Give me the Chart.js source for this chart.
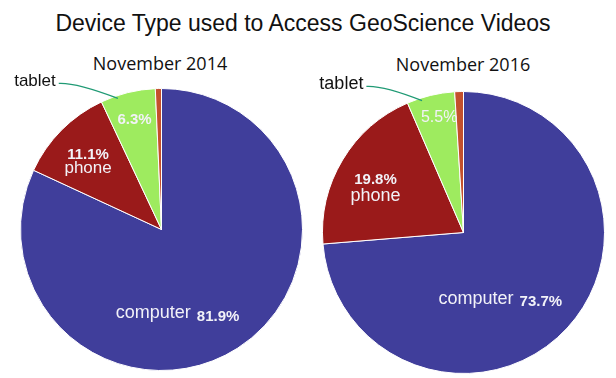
<!DOCTYPE html>
<html>
<head>
<meta charset="utf-8">
<script src="https://cdn.jsdelivr.net/npm/chart.js@4/dist/chart.umd.min.js"></script>
<style>
  body { margin: 0; background: #fff; width: 616px; height: 378px; overflow: hidden; position: relative; }
  #title { position: absolute; left: -5px; top: 12px; width: 616px; text-align: center;
           font: 23px/23px "Liberation Sans", Arial, sans-serif; color: #111; }
  .sub { position: absolute; width: 308px; text-align: center;
         font: 18px/18px "Open Sans", sans-serif; color: #111; }
  canvas { position: absolute; top: 0; }
</style>
</head>
<body>
<div id="title">Device Type used to Access GeoScience Videos</div>
<div class="sub" id="sub0" style="left:6px; top:54px"></div>
<div class="sub" id="sub1" style="left:309px; top:55px"></div>
<canvas id="c0" width="308" height="378" style="left:0"></canvas>
<canvas id="c1" width="308" height="378" style="left:308px"></canvas>
<script>
// data
const categories = ['computer', 'phone', 'tablet', 'other'];
const periods = ['November 2014', 'November 2016'];
const values2014 = [81.9, 11.1, 6.3, 0.7];
const values2016 = [73.7, 19.8, 5.5, 1.0];

const colors = ['#403e9b', '#9a1a1a', '#9eeb5f', '#c4502c'];

const nameFont = '18px "Liberation Sans", Arial, sans-serif';
const pctFont = 'bold 15px "Liberation Sans", Arial, sans-serif';

// draws the text inside the slices + the "tablet" callout
const sliceLabels = {
    id: 'sliceLabels',
    afterDatasetsDraw(chart, args, opts) {
        var ctx = chart.ctx
        var arcs = chart.getDatasetMeta(0).data
        var values = chart.data.datasets[0].data
        var labels = chart.data.labels
        var pct = v => v.toFixed(1) + '%'
        var pos = (arc, shift, f) => {
            var a = (arc.startAngle + arc.endAngle) / 2 + shift * Math.PI / 180
            return [arc.x + Math.cos(a) * arc.outerRadius * f, arc.y + Math.sin(a) * arc.outerRadius * f]
        }
        ctx.save()
        ctx.textBaseline = 'middle'
        ctx.fillStyle = '#f2f2f8'

        // computer: name and percent on one line
        var p = pos(arcs[0], opts.computer[0], opts.computer[1])
        ctx.font = nameFont
        var w1 = ctx.measureText(labels[0]).width
        ctx.font = pctFont
        var w2 = ctx.measureText(pct(values[0])).width
        var x0 = p[0] - (w1 + 6 + w2) / 2
        ctx.textAlign = 'left'
        ctx.font = nameFont
        ctx.fillText(labels[0], x0, p[1] - 2)
        ctx.font = pctFont
        ctx.fillText(pct(values[0]), x0 + w1 + 6, p[1] + 1)

        // phone: percent over name
        p = pos(arcs[1], opts.phone[0], opts.phone[1])
        ctx.textAlign = 'center'
        ctx.font = pctFont
        ctx.fillText(pct(values[1]), p[0], p[1] - opts.phone[2])
        ctx.font = opts.phoneFont
        ctx.fillText(labels[1], p[0], p[1] + opts.phone[2])

        // tablet: percent inside
        p = pos(arcs[2], opts.tablet[0], opts.tablet[1])
        ctx.font = opts.tabletFont
        ctx.fillText(pct(values[2]), p[0], p[1])

        // tablet name outside with a leader line
        var arc = arcs[2]
        var r = arc.outerRadius
        var tx = arc.x + opts.callout[0] * r
        var ty = arc.y + opts.callout[1] * r
        ctx.fillStyle = '#111'
        ctx.textAlign = 'right'
        ctx.font = opts.calloutFont
        ctx.fillText(labels[2], tx, ty)
        var a = arc.startAngle + (arc.endAngle - arc.startAngle) * 0.3
        var ex = arc.x + Math.cos(a) * r * 0.98
        var ey = arc.y + Math.sin(a) * r * 0.98
        ctx.strokeStyle = '#1f9a74'
        ctx.lineWidth = 1.3
        ctx.beginPath()
        ctx.moveTo(tx + 3, ty + 2)
        ctx.quadraticCurveTo(tx + 20, ty + 1, ex, ey)
        ctx.stroke()
        ctx.restore()
    }
}

function makePie(id, values, padding, labelOpts) {
    var context = document.getElementById(id).getContext('2d')
    return new Chart(context, {
        type: 'pie',
        data: {
            labels: categories,
            datasets: [{
                data: values,
                backgroundColor: colors,
                borderColor: '#ffffff',
                borderWidth: 1
            }]
        },
        options: {
            responsive: false,
            maintainAspectRatio: false,
            animation: false,
            layout: { padding: padding },
            plugins: {
                legend: { display: false },
                tooltip: { enabled: false },
                sliceLabels: labelOpts
            }
        },
        plugins: [sliceLabels]
    })
}

document.getElementById('sub0').textContent = periods[0]
document.getElementById('sub1').textContent = periods[1]

makePie('c0', values2014, { left: 20, right: 5, top: 88, bottom: 7 }, {
    computer: [22, 0.62],
    phone: [-2, 0.71, 7],
    phoneFont: '17px "Liberation Sans", Arial, sans-serif',
    tablet: [0, 0.8],
    tabletFont: pctFont,
    callout: [-0.75, -1.05],
    calloutFont: '17px "Liberation Sans", Arial, sans-serif'
})

makePie('c1', values2016, { left: 14, right: 11, top: 91, bottom: 4 }, {
    computer: [19, 0.55],
    phone: [-4, 0.7, 8],
    phoneFont: '18px "Liberation Sans", Arial, sans-serif',
    tablet: [1.5, 0.83],
    tabletFont: '16px "Liberation Sans", Arial, sans-serif',
    callout: [-0.71, -1.05],
    calloutFont: '18px "Liberation Sans", Arial, sans-serif'
})
</script>
</body>
</html>
